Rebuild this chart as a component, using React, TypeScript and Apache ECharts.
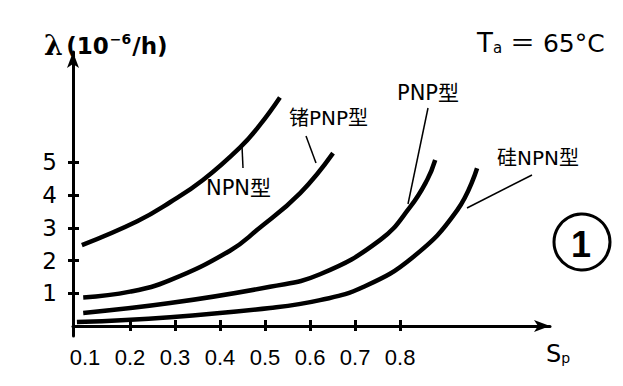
import React, { useEffect, useRef } from "react";
import * as echarts from "echarts";

// Sp (x) vs failure rate λ (10^-6/h)
const npn: [number, number][] = [[0.093, 2.47], [0.216, 3.2], [0.289, 3.78], [0.362, 4.46], [0.444, 5.45], [0.489, 6.15], [0.533, 6.98]];
const gePnp: [number, number][] = [[0.096, 0.87], [0.2, 1.05], [0.289, 1.4], [0.422, 2.3], [0.482, 2.93], [0.578, 4.06], [0.651, 5.28]];
const pnp: [number, number][] = [[0.096, 0.4], [0.289, 0.7], [0.511, 1.2], [0.622, 1.58], [0.756, 2.63], [0.822, 3.63], [0.86, 4.46], [0.878, 5.07]];
const siNpn: [number, number][] = [[0.082, 0.12], [0.289, 0.27], [0.511, 0.55], [0.622, 0.79], [0.718, 1.19], [0.829, 2.11], [0.927, 3.54], [0.971, 4.82]];

const xTicks = [0.2, 0.3, 0.4, 0.5, 0.6, 0.7, 0.8];
const xLabels = [0.1, 0.2, 0.3, 0.4, 0.5, 0.6, 0.7, 0.8];
const yTicks = [1, 2, 3, 4, 5];

const seriesNames = ["NPN型", "锗PNP型", "PNP型", "硅NPN型"];

export default function App() {
  const ref = useRef<HTMLDivElement>(null);
  useEffect(() => {
    if (!ref.current) return;
    const chart = echarts.init(ref.current, null, { renderer: "svg" });
    const font = "'Liberation Sans', 'DejaVu Sans', sans-serif";
    const wide = "'DejaVu Sans', 'Noto Sans CJK SC', sans-serif";
    const lineSeries = (name: string, data: [number, number][]) => ({
      name,
      type: "line",
      data,
      smooth: 0.45,
      showSymbol: false,
      symbol: "none",
      lineStyle: { color: "#000", width: 4.5 },
      silent: true,
    });
    chart.setOption({
      animation: false,
      backgroundColor: "#fff",
      grid: { left: 73, right: 73, top: 52, bottom: 50 },
      xAxis: [
        {
          type: "value",
          min: 0.0733,
          max: 1.133,
          splitLine: { show: false },
          axisLine: { lineStyle: { color: "#000", width: 3 }, symbol: ["none", "arrow"], symbolSize: [9, 16] },
          axisTick: { customValues: xTicks, length: 5, lineStyle: { color: "#000", width: 3 } },
          axisLabel: {
            customValues: xLabels,
            color: "#000",
            fontSize: 22,
            fontFamily: font,
            margin: 10,
            formatter: (v: number) => "{a|" + v.toFixed(1) + "}",
            rich: { a: { fontSize: 22, fontFamily: font, color: "#000" } },
          },
        },
        {
          type: "value",
          position: "bottom",
          min: 0.0733,
          max: 1.133,
          splitLine: { show: false },
          axisLine: { show: false },
          axisTick: { inside: true, customValues: xTicks, length: 6, lineStyle: { color: "#000", width: 3 } },
          axisLabel: { show: false },
        },
      ],
      yAxis: [
        {
          type: "value",
          min: -0.305,
          max: 8.37,
          splitLine: { show: false },
          axisLine: { lineStyle: { color: "#000", width: 3 }, symbol: ["none", "arrow"], symbolSize: [9, 16] },
          axisTick: { customValues: yTicks, length: 5, lineStyle: { color: "#000", width: 3 } },
          axisLabel: {
            customValues: yTicks,
            color: "#000",
            fontSize: 23,
            fontFamily: wide,
            margin: 16,
          },
        },
        {
          type: "value",
          min: -0.305,
          max: 8.37,
          position: "left",
          splitLine: { show: false },
          axisLine: { show: false },
          axisTick: { inside: true, customValues: yTicks, length: 6, lineStyle: { color: "#000", width: 3 } },
          axisLabel: { show: false },
        },
      ],
      series: [
        lineSeries(seriesNames[0], npn),
        lineSeries(seriesNames[1], gePnp),
        lineSeries(seriesNames[2], pnp),
        lineSeries(seriesNames[3], siNpn),
      ],
      graphic: [
        {
          type: "text",
          left: 44,
          top: 32,
          style: {
            text: "{l|λ} {p|(10}{s|−6}{p|/h)}",
            rich: {
              l: { fontSize: 27, fontFamily: "'DejaVu Serif', serif", fontWeight: "bold", fill: "#000" },
              p: { fontSize: 23, fontFamily: wide, fontWeight: "bold", fill: "#000" },
              s: { fontSize: 14, fontFamily: wide, fontWeight: "bold", fill: "#000", verticalAlign: "top", padding: [0, 1, 10, 1] },
            },
          },
        },
        {
          type: "text",
          left: 477,
          top: 30,
          style: {
            text: "{t|T}{a|a}{e| ＝ 65°C}",
            rich: {
              t: { fontSize: 26, fontFamily: wide, fill: "#000" },
              a: { fontSize: 15, fontFamily: wide, fill: "#000", padding: [9, 0, 0, 0] },
              e: { fontSize: 25, fontFamily: wide, fill: "#000" },
            },
          },
        },
        { type: "text", left: 206, top: 177, style: { text: seriesNames[0], fontSize: 21, fontFamily: wide, fill: "#000" } },
        { type: "line", shape: { x1: 242, y1: 146, x2: 243, y2: 168 }, style: { stroke: "#000", lineWidth: 1.5 } },
        { type: "text", left: 289, top: 108, style: { text: seriesNames[1], fontSize: 20, fontFamily: wide, fill: "#000" } },
        { type: "line", shape: { x1: 306, y1: 136, x2: 316, y2: 163 }, style: { stroke: "#000", lineWidth: 1.5 } },
        { type: "text", left: 397, top: 82, style: { text: seriesNames[2], fontSize: 21, fontFamily: wide, fill: "#000" } },
        { type: "line", shape: { x1: 428, y1: 108, x2: 408, y2: 204 }, style: { stroke: "#000", lineWidth: 1.5 } },
        { type: "text", left: 497, top: 148, style: { text: seriesNames[3], fontSize: 20, fontFamily: wide, fill: "#000" } },
        { type: "line", shape: { x1: 532, y1: 175, x2: 467, y2: 208 }, style: { stroke: "#000", lineWidth: 1.5 } },
        {
          type: "text",
          left: 546,
          top: 342,
          style: {
            text: "{s|S}{p|p}",
            rich: {
              s: { fontSize: 24, fontFamily: wide, fill: "#000" },
              p: { fontSize: 14, fontFamily: wide, fill: "#000", padding: [9, 0, 0, 0] },
            },
          },
        },
        { type: "circle", shape: { cx: 582, cy: 242, r: 28 }, style: { fill: "none", stroke: "#000", lineWidth: 3 } },
        {
          type: "text",
          x: 581,
          y: 244,
          style: { text: "1", fontSize: 36, fontWeight: "bold", fontFamily: font, fill: "#000", align: "center", verticalAlign: "middle" },
        },
      ],
    });
    return () => chart.dispose();
  }, []);
  return <div ref={ref} style={{ position: "fixed", left: 0, top: 0, width: 623, height: 386 }} />;
}
